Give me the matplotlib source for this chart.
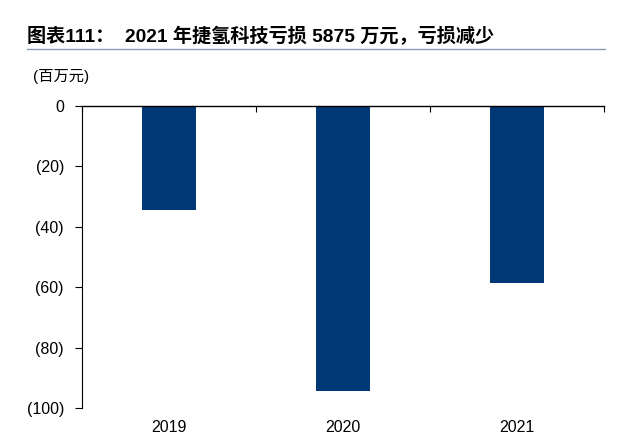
import matplotlib
matplotlib.use("Agg")
import matplotlib.pyplot as plt
from matplotlib.ticker import FixedLocator

plt.rcParams['font.family'] = ['Liberation Sans', 'Noto Sans CJK SC', 'DejaVu Sans']

years = ["2019", "2020", "2021"]
losses = [-34.6, -94.3, -58.75]
yticks = [0, -20, -40, -60, -80, -100]
ytick_labels = ["0", "(20)", "(40)", "(60)", "(80)", "(100)"]

fig = plt.figure(figsize=(6.3, 4.41), dpi=100)
ax = fig.add_axes([82/630, 1-408/441, 522/630, 302/441])

x = list(range(len(years)))
ax.bar(x, losses, width=0.31, color="#003876")
ax.set_xlim(-0.5, len(years)-0.5)
ax.set_ylim(-100, 0)

ax.set_yticks(yticks)
ax.set_yticklabels(ytick_labels, fontsize=11.5)
ax.set_xticks(x)
ax.set_xticklabels(years, fontsize=11.5)
ax.tick_params(axis='x', length=0, pad=9)
ax.xaxis.set_minor_locator(FixedLocator([-0.5, 0.5, 1.5, 2.5]))
ax.tick_params(axis='x', which='minor', direction='in', length=4, top=True, bottom=False, width=0.8)
ax.tick_params(axis='y', direction='out', length=5, width=0.8, pad=8)

for s in ['right', 'bottom']:
    ax.spines[s].set_visible(False)
ax.spines['top'].set_linewidth(1.0)
ax.spines['left'].set_linewidth(0.8)
ax.xaxis.set_ticks_position('none')
ax.tick_params(axis='x', which='minor', top=True, bottom=False)

fig.text(27/630, 1-37/441, "图表111：  2021 年捷氢科技亏损 5875 万元，亏损减少",
         fontsize=13.8, fontweight='bold', va='center', ha='left')
fig.add_artist(plt.Line2D([27/630, 605/630], [1-49/441, 1-49/441],
                          color="#8a9ab5", linewidth=1.0))
fig.text(33/630, 1-77/441, "(百万元)", fontsize=11, va='center', ha='left')

fig.savefig("out.png", dpi=100)
